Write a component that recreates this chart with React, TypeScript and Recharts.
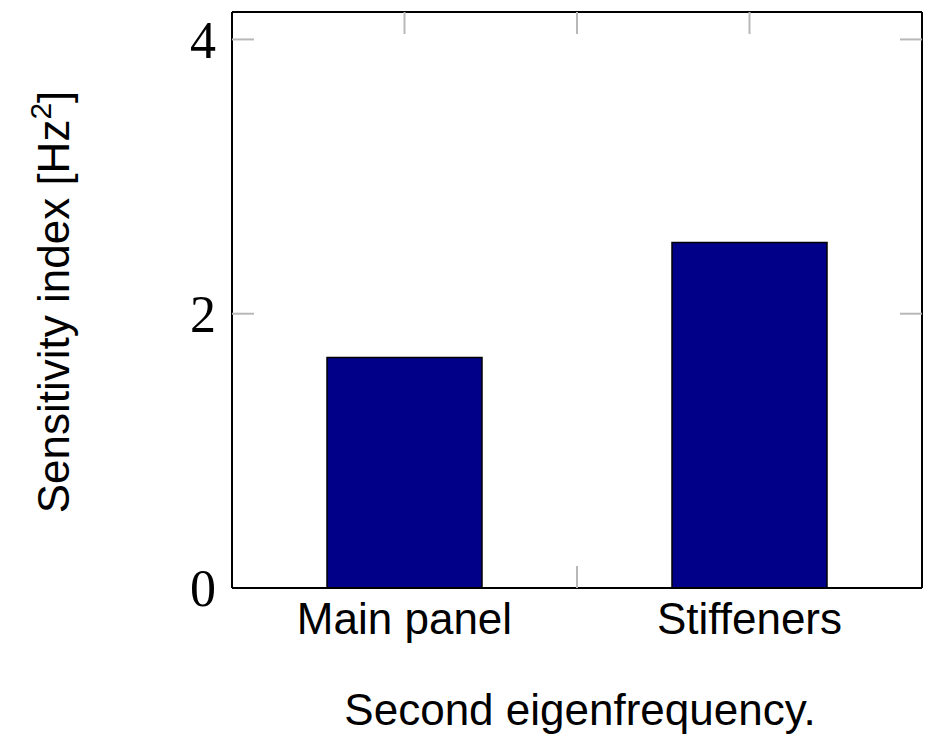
import React from 'react';
import { BarChart, Bar, XAxis, YAxis, Label } from 'recharts';

// ---------------------------------------------------------------------------
// Data
// ---------------------------------------------------------------------------

const categories = ['Main panel', 'Stiffeners'];
const sensitivityIndex = [1.68, 2.52];
const categoryPositions = [1, 2];
const xTickPositions = [1, 1.5, 2];
// bottom ticks at 1 and 2 sit behind the bars, so only the middle one shows
const xTickPositionsBottom = [1.5];
const yTicks = [0, 2, 4];
// the 0 tick lies on the bottom frame line
const yTicksInner = [2, 4];
const yDomain = [0, 4.2];
const xDomain = [0.5, 2.5];

const data = categories.map((name, i) => ({
  name,
  value: sensitivityIndex[i],
  pos: categoryPositions[i],
}));

// ---------------------------------------------------------------------------
// Styles
// ---------------------------------------------------------------------------

const SANS = '"Liberation Sans", Arial, Helvetica, sans-serif';
const SERIF = '"Liberation Serif", "Times New Roman", serif';
const BAR_FILL = '#000088';
const TICK_GRAY = '#b8b8b8';
const FRAME = { stroke: '#000', strokeWidth: 2 };
const INNER_TICK = { stroke: TICK_GRAY, strokeWidth: 2 };
const noLabel = () => <g />;

// axis titles
function XTitle(props: any) {
  const vb = props.viewBox || { x: 0, width: 0 };
  return (
    <text
      x={vb.x + vb.width / 2 + 3}
      y={725}
      textAnchor="middle"
      fontFamily={SANS}
      fontSize={44}
      fill="#000"
    >
      Second eigenfrequency.
    </text>
  );
}

function YTitle(props: any) {
  const vb = props.viewBox || { y: 0, height: 0 };
  const cx = 69;
  const cy = vb.y + vb.height / 2 + 2;
  return (
    <text
      x={cx}
      y={cy}
      transform={`rotate(-90 ${cx} ${cy})`}
      textAnchor="middle"
      fontFamily={SANS}
      fontSize={44}
      fill="#000"
    >
      Sensitivity index [Hz
      <tspan dy={-18} fontSize={30}>2</tspan>
      <tspan dy={18}>]</tspan>
    </text>
  );
}

export default function App() {
  return (
    <div style={{ position: 'absolute', left: 0, top: 0, width: 933, height: 736, background: '#fff' }}>
      <BarChart
        width={933}
        height={736}
        data={data}
        margin={{ top: 12, right: 11, bottom: 0, left: 152 }}
      >
        <XAxis
          xAxisId="cat"
          dataKey="name"
          type="category"
          height={148}
          interval={0}
          tickLine={false}
          axisLine={FRAME}
          tickSize={6}
          tickMargin={9}
          tick={{ fontFamily: SANS, fontSize: 44, fill: '#000' }}
        >
          <Label content={XTitle} />
        </XAxis>
        <XAxis
          xAxisId="ticksBottom"
          type="number"
          dataKey="pos"
          domain={xDomain}
          allowDataOverflow
          ticks={xTickPositionsBottom}
          orientation="bottom"
          mirror
          height={1}
          axisLine={false}
          tickLine={INNER_TICK}
          tickSize={22}
          tick={noLabel}
        />
        <XAxis
          xAxisId="ticksTop"
          type="number"
          dataKey="pos"
          domain={xDomain}
          allowDataOverflow
          ticks={xTickPositions}
          orientation="top"
          mirror
          height={1}
          axisLine={FRAME}
          tickLine={INNER_TICK}
          tickSize={22}
          tick={noLabel}
        />
        <YAxis
          yAxisId="main"
          domain={yDomain}
          allowDataOverflow
          ticks={yTicks}
          width={80}
          tickLine={false}
          axisLine={FRAME}
          tickSize={6}
          tickMargin={10}
          tick={{ fontFamily: SERIF, fontSize: 52, fill: '#000' }}
        >
          <Label content={YTitle} />
        </YAxis>
        <YAxis
          yAxisId="ticksLeft"
          domain={yDomain}
          allowDataOverflow
          ticks={yTicksInner}
          mirror
          width={1}
          axisLine={false}
          tickLine={INNER_TICK}
          tickSize={22}
          tick={noLabel}
        />
        <YAxis
          yAxisId="ticksRight"
          orientation="right"
          domain={yDomain}
          allowDataOverflow
          ticks={yTicksInner}
          mirror
          width={1}
          axisLine={FRAME}
          tickLine={INNER_TICK}
          tickSize={22}
          tick={noLabel}
        />
        <Bar
          xAxisId="cat"
          yAxisId="main"
          dataKey="value"
          fill={BAR_FILL}
          stroke="#000"
          strokeWidth={1.5}
          barSize={155}
          isAnimationActive={false}
        />
      </BarChart>
    </div>
  );
}
